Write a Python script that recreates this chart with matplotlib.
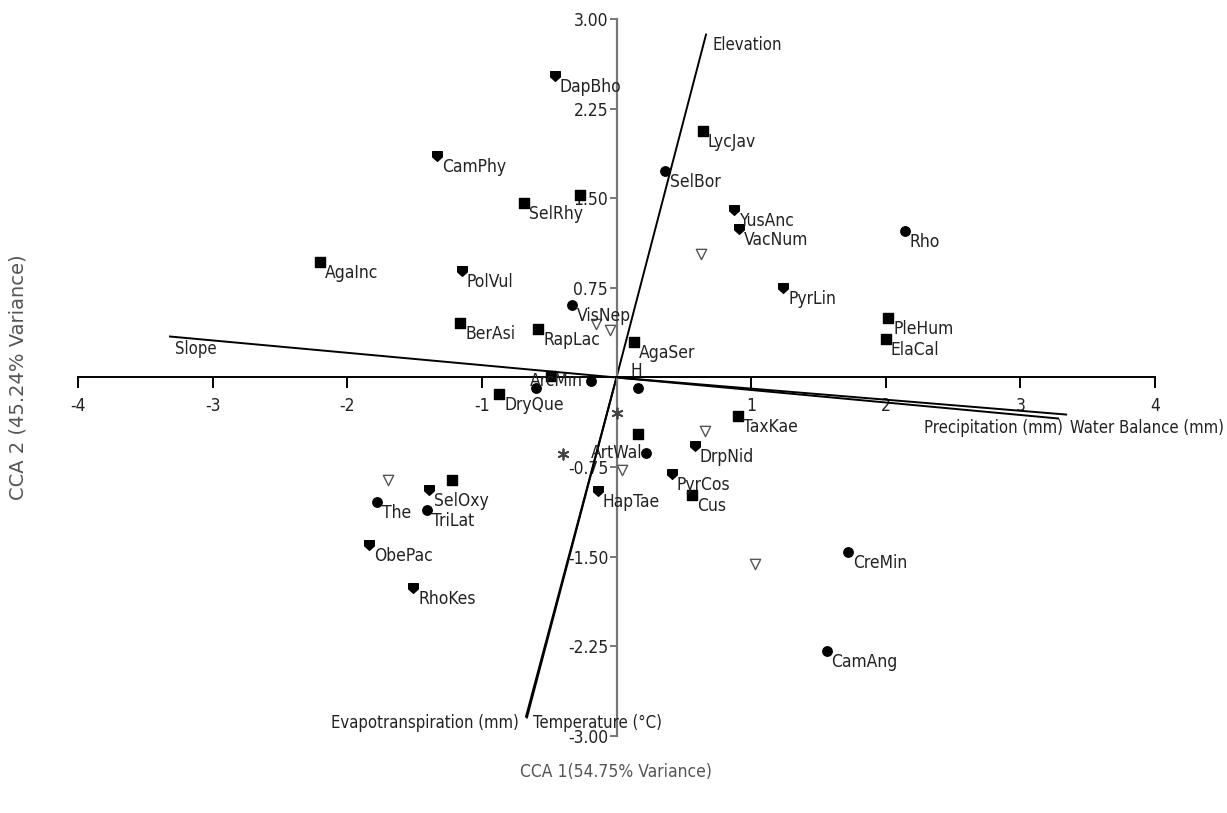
import matplotlib
matplotlib.use("Agg")
import matplotlib.pyplot as plt
import matplotlib.font_manager as fm
from matplotlib.path import Path

# species scores (CCA 1, CCA 2) and marker group
sp_names = ["DapBho", "CamPhy", "SelRhy", "", "AgaInc", "PolVul", "LycJav", "SelBor",
            "YusAnc", "VacNum", "", "Rho", "PyrLin", "PleHum", "ElaCal", "BerAsi",
            "RapLac", "DryQue", "VisNep", "", "", "AgaSer", "ArcMin", "", "", "H",
            "", "", "ArtWal", "", "", "HapTae", "DrpNid", "", "PyrCos", "Cus",
            "TaxKae", "CreMin", "", "CamAng", "", "", "SelOxy", "The", "TriLat",
            "ObePac", "RhoKes"]
sp_x = [-0.46, -1.33, -0.69, -0.27, -2.20, -1.15, 0.64, 0.36,
        0.87, 0.91, 0.63, 2.14, 1.24, 2.02, 2.00, -1.16,
        -0.58, -0.87, -0.33, -0.15, -0.05, 0.13, -0.49, -0.60, -0.19, 0.16,
        0.00, 0.16, 0.22, -0.40, 0.04, -0.14, 0.58, 0.66, 0.41, 0.56,
        0.90, 1.72, 1.03, 1.56, -1.70, -1.22, -1.39, -1.78, -1.41,
        -1.84, -1.51]
sp_y = [2.52, 1.85, 1.46, 1.53, 0.97, 0.89, 2.06, 1.73,
        1.40, 1.24, 1.03, 1.23, 0.75, 0.50, 0.32, 0.46,
        0.41, -0.14, 0.61, 0.45, 0.40, 0.30, 0.01, -0.09, -0.03, -0.09,
        -0.30, -0.47, -0.63, -0.64, -0.77, -0.95, -0.57, -0.45, -0.81, -0.98,
        -0.32, -1.46, -1.56, -2.29, -0.86, -0.86, -0.94, -1.04, -1.11,
        -1.40, -1.76]
sp_kind = ["shield", "shield", "square", "square", "square", "shield", "square", "circle",
           "shield", "shield", "open", "circle", "shield", "square", "square", "square",
           "square", "square", "circle", "open", "open", "square", "square", "circle", "circle", "circle",
           "star", "square", "circle", "star", "open", "shield", "shield", "open", "shield", "square",
           "square", "circle", "open", "circle", "open", "square", "shield", "circle", "circle",
           "shield", "shield"]

# environmental vectors
env_names = ["Elevation", "Temperature (°C)", "Evapotranspiration (mm)", "Slope",
             "Precipitation (mm)", "Water Balance (mm)"]
env_x = [0.665, -0.665, -0.672, -3.317, 3.28, 3.34]
env_y = [2.87, -2.845, -2.837, 0.343, -0.343, -0.31]
env_ha = ["left", "left", "right", "left", "right", "left"]
env_off = [(6, -10), (6, -6), (-7, -6), (5, -12), (5, -10), (4, -13)]

x_ticks = [-4, -3, -2, -1, 1, 2, 3, 4]
y_ticks = [-3.0, -2.25, -1.5, -0.75, 0.75, 1.5, 2.25, 3.0]


def narrow_font():
    """Look for an installed condensed / narrow sans font"""
    for f in fm.fontManager.ttflist:
        low = f.fname.lower()
        if ("condensed" in low or "narrow" in low) and "bold" not in low \
                and "oblique" not in low and "italic" not in low and "sans" in low:
            return f.fname
    return None


narrow = narrow_font()


def lab_font(size):
    if narrow:
        return fm.FontProperties(fname=narrow, size=size)
    return fm.FontProperties(family="DejaVu Sans", size=size * 0.88)


shield = Path([(-1, 1), (1, 1), (1, -0.1), (0, -1), (-1, -0.1), (-1, 1)],
              [Path.MOVETO, Path.LINETO, Path.LINETO, Path.LINETO, Path.LINETO, Path.CLOSEPOLY])
styles = {
    "square": dict(marker="s", s=42, c="black"),
    "circle": dict(marker="o", s=46, c="black"),
    "shield": dict(marker=shield, s=48, c="black"),
    "open": dict(marker="v", s=55, facecolors="white", edgecolors="#555555", linewidths=1.0),
    "star": dict(marker=(6, 2, 0), s=55, c="#444444", linewidths=1.3),
}
label_override = {
    "ArcMin": dict(off=(6, -5), ha="center"),
    "ArtWal": dict(off=(-4, 0), ha="right"),
    "H": dict(off=(-2, 17), ha="center"),
}

fig = plt.figure(figsize=(12.27, 8.13), dpi=100)
ax = fig.add_axes([78 / 1227, 77 / 813, 1077 / 1227, 717 / 813])
ax.set_xlim(-4, 4)
ax.set_ylim(-3, 3)

ax.spines["left"].set_position(("data", 0))
ax.spines["bottom"].set_position(("data", 0))
ax.spines["right"].set_visible(False)
ax.spines["top"].set_visible(False)
ax.spines["left"].set_color("#777777")
ax.spines["left"].set_linewidth(1.6)
ax.spines["bottom"].set_linewidth(1.4)

ax.set_xticks(x_ticks)
ax.set_xticklabels([str(t) for t in x_ticks])
ax.set_yticks(y_ticks)
ax.set_yticklabels([f"{t:.2f}" for t in y_ticks])
ax.tick_params(axis="x", direction="out", length=8, width=1.4, pad=6, labelcolor="#222222")
ax.tick_params(axis="y", direction="out", length=5, width=1.4, color="#777777", pad=1,
               labelcolor="#222222")
for lab in ax.get_xticklabels() + ax.get_yticklabels():
    lab.set_fontproperties(lab_font(12.5))

# environmental lines
for name, ex, ey, ha, off in zip(env_names, env_x, env_y, env_ha, env_off):
    ax.plot([0, ex], [0, ey], color="black", lw=1.4, zorder=2)
    ax.annotate(name, (ex, ey), xytext=off, textcoords="offset pixels",
                ha=ha, va="center", fontproperties=lab_font(12),
                color="#222222", annotation_clip=False)

# species points
for kind, st in styles.items():
    xs = [x for x, k in zip(sp_x, sp_kind) if k == kind]
    ys = [y for y, k in zip(sp_y, sp_kind) if k == kind]
    ax.scatter(xs, ys, zorder=3, **st)

for name, x, y in zip(sp_names, sp_x, sp_y):
    if not name:
        continue
    o = label_override.get(name, dict(off=(5, -11), ha="left"))
    ax.annotate(name, (x, y), xytext=o["off"], textcoords="offset pixels",
                ha=o["ha"], va="center", fontproperties=lab_font(12.5),
                color="#222222", zorder=4)

fig.text(616 / 1227, 1 - 772 / 813, "CCA 1(54.75% Variance)", ha="center", va="center",
         fontproperties=lab_font(12.5), color="#555555")
fig.text(18 / 1227, 1 - 377 / 813, "CCA 2 (45.24% Variance)", ha="center", va="center",
         rotation=90, fontsize=14, color="#555555")

fig.savefig("out.png", dpi=100)
